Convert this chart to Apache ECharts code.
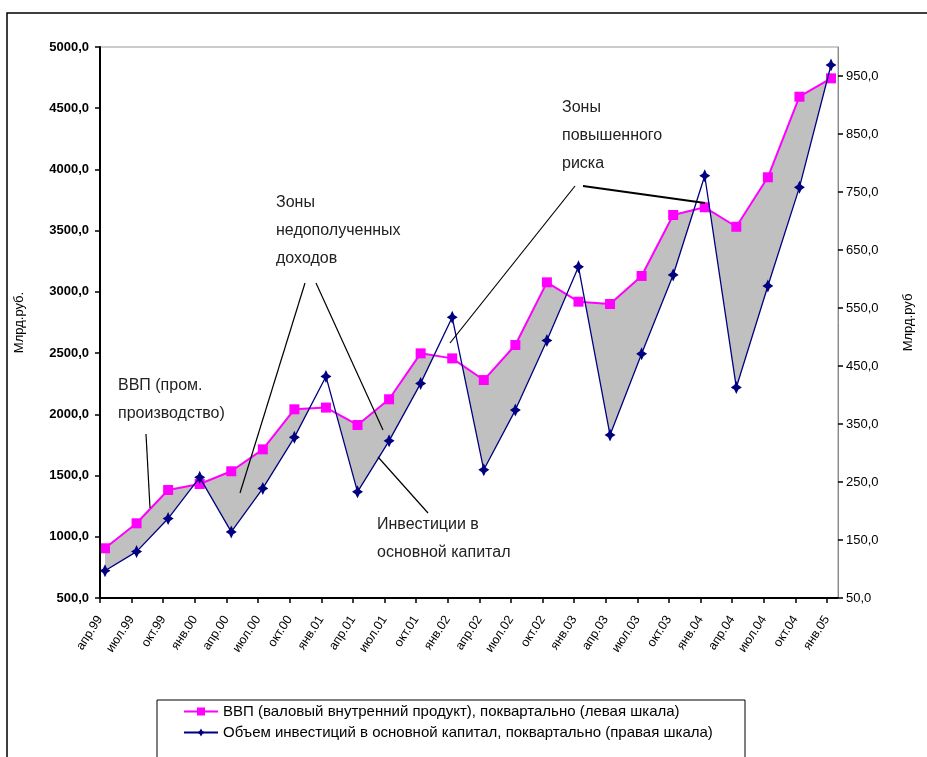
<!DOCTYPE html>
<html>
<head>
<meta charset="utf-8">
<script src="https://cdn.jsdelivr.net/npm/echarts@6/dist/echarts.min.js"></script>
<style>
  html, body { margin: 0; padding: 0; background: #fff; }
  #chart { width: 927px; height: 757px; }
</style>
</head>
<body>
<div id="chart"></div>
<script>
// Quarters shown on the category axis
const quarters = ['апр.99','июл.99','окт.99','янв.00','апр.00','июл.00','окт.00','янв.01',
  'апр.01','июл.01','окт.01','янв.02','апр.02','июл.02','окт.02','янв.03',
  'апр.03','июл.03','окт.03','янв.04','апр.04','июл.04','окт.04','янв.05'];

// ВВП, млрд руб. (left scale)
const gdp = [906, 1110, 1382, 1431, 1535, 1714, 2041, 2055, 1913, 2123, 2498, 2457,
  2280, 2566, 3078, 2920, 2901, 3130, 3628, 3691, 3532, 3936, 4594, 4744];

// Инвестиции в основной капитал, млрд руб. (right scale)
const investment = [97, 130, 187, 258, 164, 239, 327, 432, 233, 321, 420, 534,
  271, 374, 494, 621, 331, 471, 607, 778, 413, 588, 758, 969];

// Right-scale labels
const rightTicks = [50, 150, 250, 350, 450, 550, 650, 750, 850, 950];

const gdpName = 'ВВП (валовый внутренний продукт), поквартально (левая шкала)';
const invName = 'Объем инвестиций в основной капитал, поквартально (правая шкала)';

const fmt = v => String(v) + ',0';
const starPath = 'path://M0,-10 L3.6,-3.6 L10,0 L3.6,3.6 L0,10 L-3.6,3.6 L-10,0 L-3.6,-3.6 Z';
const font = '"Liberation Sans", Arial, sans-serif';
const annoStyle = { fontSize: 16, fontFamily: font, fill: '#222', lineHeight: 28 };

const chart = echarts.init(document.getElementById('chart'));
chart.setOption({
  animation: false,
  backgroundColor: '#fff',
  grid: [
    { left: 105, top: 47, width: 726, height: 551 },   // plotted data
    { left: 100, top: 47, width: 727, height: 551 }    // quarter ticks and labels
  ],
  xAxis: [
    { type: 'category', gridIndex: 0, data: quarters, boundaryGap: false, show: false },
    {
      type: 'category', gridIndex: 1, data: quarters, boundaryGap: false, z: 10,
      axisLine: { show: true, lineStyle: { color: '#000', width: 2 } },
      axisTick: { show: true, interval: 0, length: 5, lineStyle: { color: '#000', width: 1.5 } },
      axisLabel: {
        interval: 0, rotate: 57, margin: 19, fontSize: 12.5, fontFamily: font, color: '#000'
      },
      splitLine: { show: false }
    }
  ],
  yAxis: [
    {
      type: 'value', gridIndex: 0, position: 'left', offset: 5, z: 10,
      min: 500, max: 5000, interval: 500,
      name: 'Млрд.руб.', nameLocation: 'middle', nameGap: 74, nameRotate: 90,
      nameTextStyle: { fontSize: 13, fontFamily: font, color: '#000' },
      axisLine: { show: true, lineStyle: { color: '#000', width: 2 } },
      axisTick: { show: true, length: 5, lineStyle: { color: '#000', width: 1.5 } },
      axisLabel: { formatter: fmt, fontSize: 13, fontWeight: 'bold', fontFamily: font, color: '#000', margin: 11 },
      splitLine: { show: false }
    },
    {
      type: 'value', gridIndex: 0, position: 'right', offset: 7, z: 10,
      min: 50, max: 1000,
      name: 'Млрд.руб', nameLocation: 'middle', nameGap: 64, nameRotate: 90,
      nameTextStyle: { fontSize: 13, fontFamily: font, color: '#000' },
      axisLine: { show: true, lineStyle: { color: '#888', width: 1 } },
      axisTick: { show: true, length: 5, customValues: rightTicks, lineStyle: { color: '#000', width: 1.5 } },
      axisLabel: { customValues: rightTicks, formatter: fmt, fontSize: 13, fontFamily: font, color: '#000', margin: 8 },
      splitLine: { show: false }
    },
    { type: 'value', gridIndex: 1, min: 0, max: 1, show: false }
  ],
  legend: {
    left: 183, top: 704, orient: 'vertical', itemGap: 6,
    itemWidth: 34, itemHeight: 10, padding: 0,
    data: [gdpName, invName],
    textStyle: { fontSize: 15, fontFamily: font, color: '#000' }
  },
  series: [
    { // gray band under the GDP line
      name: 'gdpArea', type: 'line', xAxisIndex: 0, yAxisIndex: 0, data: gdp,
      symbol: 'none', lineStyle: { width: 0 }, z: 2, silent: true,
      areaStyle: { color: '#c0c0c0', opacity: 1, origin: 'start' }
    },
    { // white under the investment line clears the band below it
      name: 'invArea', type: 'line', xAxisIndex: 0, yAxisIndex: 1, data: investment,
      symbol: 'none', lineStyle: { width: 0 }, z: 3, silent: true,
      areaStyle: { color: '#ffffff', opacity: 1, origin: 'start' }
    },
    {
      name: gdpName, type: 'line', xAxisIndex: 0, yAxisIndex: 0, data: gdp, z: 4,
      symbol: 'rect', symbolSize: 10,
      itemStyle: { color: '#ff00ff' },
      lineStyle: { color: '#ff00ff', width: 2 }
    },
    {
      name: invName, type: 'line', xAxisIndex: 0, yAxisIndex: 1, data: investment, z: 5,
      symbol: starPath, symbolSize: [11, 13],
      itemStyle: { color: '#000080' },
      lineStyle: { color: '#000080', width: 1.3 }
    }
  ],
  graphic: [
    // outer frame
    { type: 'rect', z: 100, silent: true, shape: { x: 7, y: 13, width: 1000, height: 1000 },
      style: { fill: null, stroke: '#000', lineWidth: 1.5 } },
    // plot area frame
    { type: 'rect', z: 1, silent: true, shape: { x: 100, y: 47, width: 738, height: 551 },
      style: { fill: null, stroke: '#999', lineWidth: 1 } },
    { type: 'line', z: 100, silent: true, shape: { x1: 100, y1: 598, x2: 838, y2: 598 },
      style: { stroke: '#000', lineWidth: 2 } },
    // legend box
    { type: 'rect', z: 100, silent: true, shape: { x: 157, y: 700, width: 588, height: 80 },
      style: { fill: null, stroke: '#000', lineWidth: 1 } },

    // callouts
    { type: 'text', z: 100, left: 118, top: 372,
      style: Object.assign({ text: 'ВВП (пром.\nпроизводство)' }, annoStyle) },
    { type: 'line', z: 100, shape: { x1: 146, y1: 434, x2: 150, y2: 508 },
      style: { stroke: '#000', lineWidth: 1.2 } },

    { type: 'text', z: 100, left: 276, top: 189,
      style: Object.assign({ text: 'Зоны\nнедополученных\nдоходов' }, annoStyle) },
    { type: 'line', z: 100, shape: { x1: 305, y1: 283, x2: 240, y2: 493 },
      style: { stroke: '#000', lineWidth: 1.2 } },
    { type: 'line', z: 100, shape: { x1: 316, y1: 283, x2: 383, y2: 430 },
      style: { stroke: '#000', lineWidth: 1.2 } },

    { type: 'text', z: 100, left: 562, top: 94,
      style: Object.assign({ text: 'Зоны\nповышенного\nриска' }, annoStyle) },
    { type: 'line', z: 100, shape: { x1: 575, y1: 186, x2: 450, y2: 343 },
      style: { stroke: '#000', lineWidth: 1.2 } },
    { type: 'line', z: 100, shape: { x1: 583, y1: 186, x2: 705, y2: 203 },
      style: { stroke: '#000', lineWidth: 2 } },

    { type: 'text', z: 100, left: 377, top: 511,
      style: Object.assign({ text: 'Инвестиции в\nосновной капитал' }, annoStyle) },
    { type: 'line', z: 100, shape: { x1: 378, y1: 457, x2: 428, y2: 513 },
      style: { stroke: '#000', lineWidth: 1.2 } }
  ]
});
</script>
</body>
</html>
